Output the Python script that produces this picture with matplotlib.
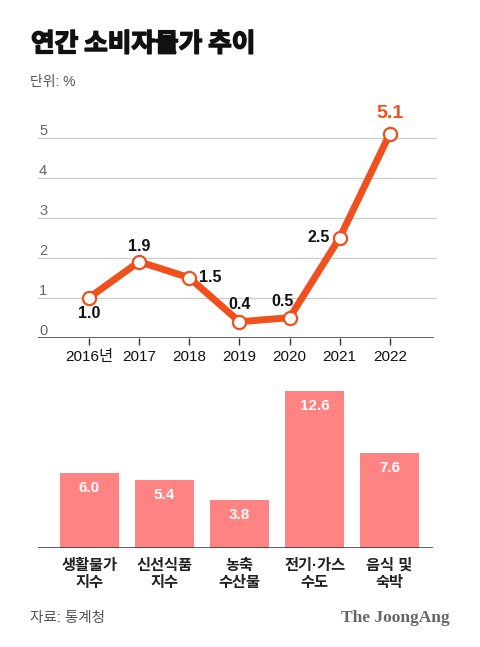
import matplotlib.pyplot as plt
import matplotlib.patheffects as pe

plt.rcParams['font.family'] = ['Liberation Sans', 'Noto Sans CJK KR']

# data
years = ['2016년', '2017', '2018', '2019', '2020', '2021', '2022']
cpi = [1.0, 1.9, 1.5, 0.4, 0.5, 2.5, 5.1]
cpi_labels = ['1.0', '1.9', '1.5', '0.4', '0.5', '2.5', '5.1']
label_offsets = [(0, -16), (0, 15), (21, 0), (0, 17), (-7, 16), (-21, 0), (0, 20)]  # pixels
y_ticks = [0, 1, 2, 3, 4, 5]

categories = ['생활물가\n지수', '신선식품\n지수', '농축\n수산물', '전기·가스\n수도', '음식 및\n숙박']
sub_values = [6.0, 5.4, 3.8, 12.6, 7.6]

line_color = '#F0501E'
bar_color = '#FF8383'

W, H = 480, 647
fig = plt.figure(figsize=(W / 100, H / 100), dpi=100)

def box(x0, y0, x1, y1):
    # pixel box (top-left origin) -> figure fraction rect
    return [x0 / W, 1 - y1 / H, (x1 - x0) / W, (y1 - y0) / H]

# titles (fake heavy weight with a stroke)
fig.text(31 / W, 1 - 44 / H, '연간 소비자물가 추이', fontsize=18.5, fontweight='bold',
         family='Noto Sans CJK KR', va='center', ha='left', color='#111111',
         path_effects=[pe.withStroke(linewidth=1.1, foreground='#111111')])
fig.text(30 / W, 1 - 82 / H, '단위: %', fontsize=10, family=['Liberation Sans', 'Noto Sans CJK KR'],
         va='center', ha='left', color='#555555')

# ---- line chart ----
ax = fig.add_axes(box(38, 113.7, 437, 337.7))
x = list(range(len(years)))
ax.set_xlim(-1.017, 6.94)
ax.set_ylim(0, 5.6)
for v in y_ticks[1:]:
    ax.axhline(v, color='#cccccc', lw=0.9, zorder=0)
ax.axhline(0, xmax=0.99, color='#333333', lw=1.1, zorder=1)
for v in y_ticks:
    ax.annotate(str(v), xy=(0, v), xycoords=ax.get_yaxis_transform(),
                xytext=(1, 3), textcoords='offset pixels',
                ha='left', va='baseline', fontsize=10.5, color='#666666')

ax.plot(x, cpi, color=line_color, lw=5, solid_joinstyle='round', zorder=3)
ax.plot(x, cpi, 'o', ms=9.5, mfc='white', mec=line_color, mew=1.6, zorder=4)

for i, (v, lab, off) in enumerate(zip(cpi, cpi_labels, label_offsets)):
    last = i == len(cpi) - 1
    ax.annotate(lab, xy=(i, v), xytext=off, textcoords='offset pixels',
                ha='center', va='center', fontweight='bold',
                fontsize=14 if last else 11.5,
                color=line_color if last else '#111111', zorder=5)

ax.set_xticks(x)
ax.set_xticklabels(years, fontsize=11, color='#111111')
ax.tick_params(axis='x', length=5, width=1, color='#333333', pad=4)
ax.tick_params(axis='y', left=False, labelleft=False)
for s in ax.spines.values():
    s.set_visible(False)
ax.patch.set_alpha(0)

# ---- bar chart ----
bx = fig.add_axes(box(38, 385.7, 433, 547.7))
bx.set_xlim(-0.687, 4.58)
bx.set_ylim(0, 13)
xb = list(range(len(categories)))
bx.bar(xb, sub_values, width=0.787, color=bar_color, zorder=2)
for i, v in enumerate(sub_values):
    bx.annotate(f'{v:.1f}', xy=(i, v), xytext=(0, -15), textcoords='offset pixels',
                ha='center', va='center', color='white', fontweight='bold', fontsize=11)
bx.axhline(0, color='#333333', lw=1.1, zorder=3)
bx.set_xticks(xb)
bx.set_xticklabels(categories, fontsize=11, fontweight='bold', color='#222222',
                   linespacing=1.3)
bx.tick_params(axis='x', length=0, pad=8)
bx.tick_params(axis='y', left=False, labelleft=False)
for s in bx.spines.values():
    s.set_visible(False)
bx.patch.set_alpha(0)

# footer
fig.text(30 / W, 1 - 618 / H, '자료: 통계청', fontsize=10.5, family=['Liberation Sans', 'Noto Sans CJK KR'],
         va='center', ha='left', color='#555555')
fig.text(450 / W, 1 - 618 / H, 'The JoongAng', fontsize=12.5, fontweight='bold',
         family='Liberation Serif', va='center', ha='right', color='#666666')

fig.savefig('out.png', dpi=100, facecolor='white')
